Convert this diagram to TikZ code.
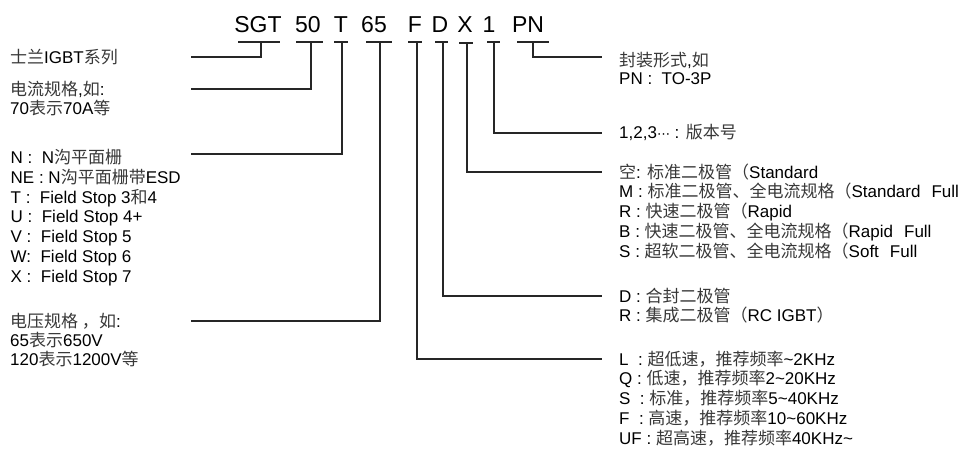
\documentclass[tikz,border=0pt]{standalone}
\usepackage{fontspec}
\setmainfont{Liberation Sans}
\newfontfamily\cjk{Noto Sans CJK SC}
\newfontfamily\dejavu{DejaVu Sans}
\newcommand\zh[1]{{\cjk\color{black!78}#1}}
\begin{document}
\begin{tikzpicture}[x=1pt,y=-1pt,
  lbl/.style={anchor=base west, inner sep=0pt, font=\fontsize{17}{20}\selectfont},
  ttl/.style={anchor=base, inner sep=0pt, font=\fontsize{23}{27}\selectfont},
  conn/.style={line width=1.2pt, black!85}]
\useasboundingbox (0,0) rectangle (964,458);

% title
\node[ttl] (tSGT) at (258,32) {SGT};
\node[ttl] (t50) at (308,32) {50};
\node[ttl] (tT) at (341,32) {T};
\node[ttl] (t65) at (374,32) {65};
\node[ttl] (tF) at (415,32) {F};
\node[ttl] (tD) at (440,32) {D};
\node[ttl] (tX) at (465,32) {X};
\node[ttl] (t1) at (489,32) {1};
\node[ttl] (tPN) at (528,32) {PN};

% underlines
\draw[conn] (238,42) -- (280,42);
\draw[conn] (296,42) -- (323,42);
\draw[conn] (334,42) -- (348,42);
\draw[conn] (366,42) -- (392,42);
\draw[conn] (408,42) -- (422,42);
\draw[conn] (435,42) -- (448,42);
\draw[conn] (459,43) -- (473,43);
\draw[conn] (487,42) -- (500,42);
\draw[conn] (517,42) -- (549,42);

% connector anchors on underlines
\coordinate (uSGT) at (261,42);
\coordinate (u50) at (311,42);
\coordinate (uT) at (342,42);
\coordinate (u65) at (380,42);
\coordinate (uF) at (417,42);
\coordinate (uD) at (443,42);
\coordinate (uX) at (467,43);
\coordinate (u1) at (494,42);
\coordinate (uPN) at (533,42);

% free ends
\coordinate (eSGT) at (191,57);
\coordinate (e50) at (191,89);
\coordinate (eT) at (191,154);
\coordinate (e65) at (191,321);
\coordinate (ePN) at (602,57);
\coordinate (e1) at (602,133);
\coordinate (eX) at (602,172);
\coordinate (eD) at (602,296);
\coordinate (eF) at (602,359);

\draw[conn] (uSGT) |- (eSGT);
\draw[conn] (u50) |- (e50);
\draw[conn] (uT) |- (eT);
\draw[conn] (u65) |- (e65);
\draw[conn] (uPN) |- (ePN);
\draw[conn] (u1) |- (e1);
\draw[conn] (uX) |- (eX);
\draw[conn] (uD) |- (eD);
\draw[conn] (uF) |- (eF);

% left labels
\node[lbl] (l1) at (10,63.5) {\zh{士兰}IGBT\zh{系列}};
\node[lbl] (l2a) at (10,95) {\zh{电流规格},\zh{如}:};
\node[lbl] (l2b) at (10,114.5) {70\zh{表示}70A\zh{等}};
\node[lbl] (l3a) at (10.5,163.5) {N :\ \ N\zh{沟平面栅}};
\node[lbl] (l3b) at (10.5,183.3) {NE : N\zh{沟平面栅带}ESD};
\node[lbl] (l3c) at (10.5,203) {T :\ \ Field Stop 3\zh{和}4};
\node[lbl] (l3d) at (10.5,222.8) {U :\ \ Field Stop 4+};
\node[lbl] (l3e) at (10.5,242.5) {V :\ \ Field Stop 5};
\node[lbl] (l3f) at (10.5,262.3) {W:\ \ Field Stop 6};
\node[lbl] (l3g) at (10.5,282) {X :\ \ Field Stop 7};
\node[lbl] (l4a) at (10,327) {\zh{电压规格\ ，如}:};
\node[lbl] (l4b) at (10,346) {65\zh{表示}650V};
\node[lbl] (l4c) at (10,365) {120\zh{表示}1200V\zh{等}};

% right labels
\node[lbl] (r1a) at (619,66) {\zh{封装形式},\zh{如}};
\node[lbl] (r1b) at (619,84) {PN :\ \ TO-3P};
\node[lbl] (r2) at (619,138.5) {1,2,3{\dejavu\fontsize{13}{15}\selectfont ⋯} : \zh{版本号}};
\node[lbl] (r3a) at (619,178) {\zh{空}: \zh{标准二极管（}Standard};
\node[lbl] (r3b) at (619,197.8) {M : \zh{标准二极管、全电流规格（}Standard\hspace{11pt}Full};
\node[lbl] (r3c) at (619,217.5) {R : \zh{快速二极管（}Rapid};
\node[lbl] (r3d) at (619,237.3) {B : \zh{快速二极管、全电流规格（}Rapid\hspace{11pt}Full};
\node[lbl] (r3e) at (619,257) {S : \zh{超软二极管、全电流规格（}Soft\hspace{11pt}Full};
\node[lbl] (r4a) at (619,302) {D : \zh{合封二极管}};
\node[lbl] (r4b) at (619,321.8) {R : \zh{集成二极管（}RC IGBT\zh{）}};
\node[lbl] (r5a) at (619,365) {L\ \ : \zh{超低速，推荐频率}\textasciitilde2KHz};
\node[lbl] (r5b) at (619,384.8) {Q : \zh{低速，推荐频率}2\textasciitilde20KHz};
\node[lbl] (r5c) at (619,404.5) {S\ \ : \zh{标准，推荐频率}5\textasciitilde40KHz};
\node[lbl] (r5d) at (619,424.3) {F\ \ : \zh{高速，推荐频率}10\textasciitilde60KHz};
\node[lbl] (r5e) at (619,444) {UF : \zh{超高速，推荐频率}40KHz\textasciitilde};
\end{tikzpicture}
\end{document}
